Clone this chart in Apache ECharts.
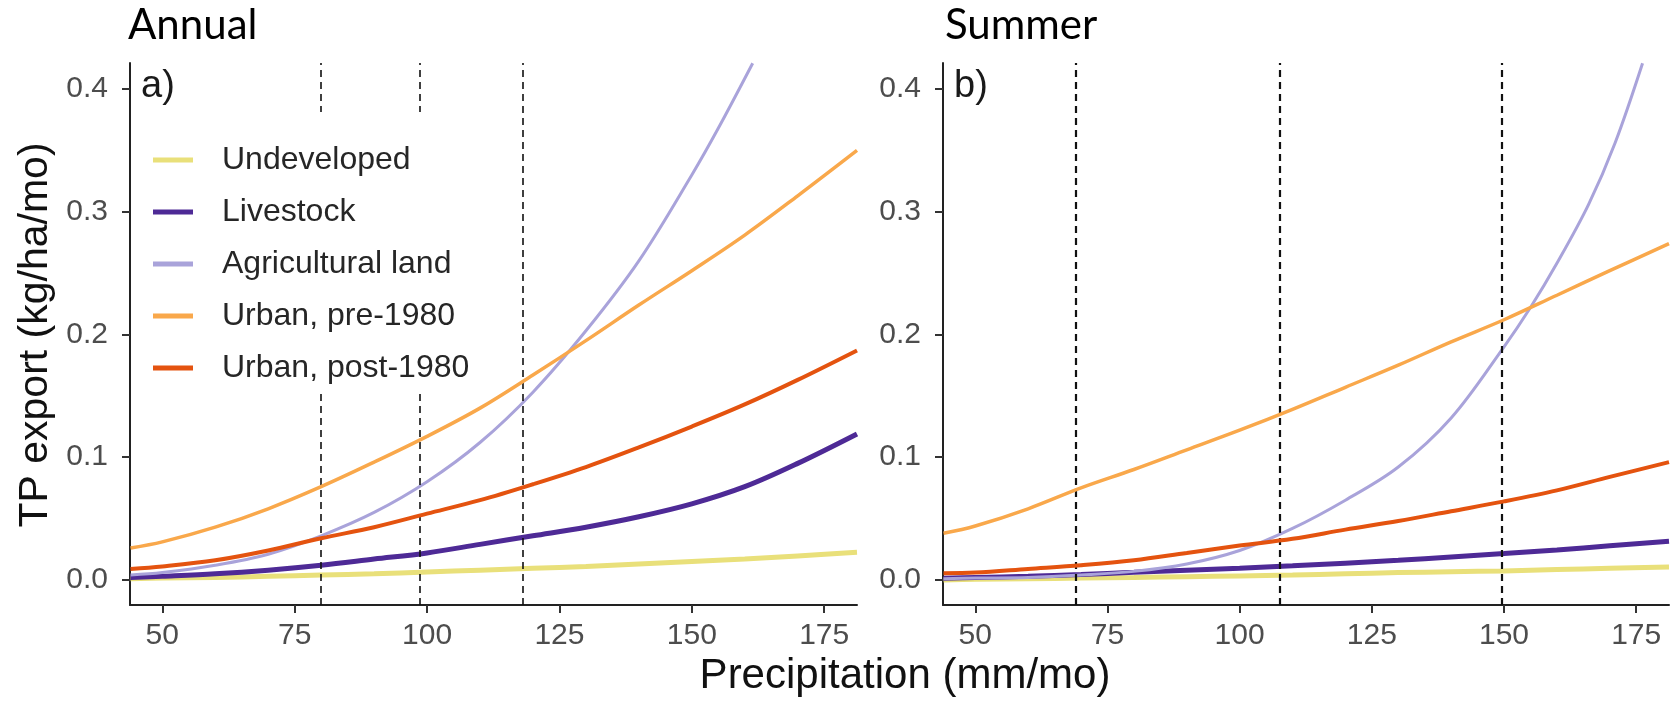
<!DOCTYPE html>
<html>
<head>
<meta charset="utf-8">
<script src="https://cdn.jsdelivr.net/npm/echarts@6/dist/echarts.min.js"></script>
<style>html,body{margin:0;padding:0;background:#fff}#c{width:1676px;height:703px}</style>
</head>
<body>
<div id="c"></div>
<script>
// ---- data ----
const seriesNames = ['Undeveloped', 'Livestock', 'Agricultural land', 'Urban, pre-1980', 'Urban, post-1980'];
const xTicks = [50, 75, 100, 125, 150, 175];
const yTicks = [0, 0.1, 0.2, 0.3, 0.4];

// Panel a (Annual)
const xA = [44, 50, 60, 70, 80, 90, 100, 110, 120, 130, 140, 150, 160, 170, 181.2];
const undevA = [0.001, 0.0015, 0.002, 0.003, 0.004, 0.005, 0.0065, 0.008, 0.0095, 0.011, 0.013, 0.015, 0.017, 0.0195, 0.0225];
const livestockA = [0.002, 0.003, 0.005, 0.008, 0.012, 0.017, 0.022, 0.029, 0.036, 0.043, 0.0515, 0.062, 0.076, 0.095, 0.119];
const preA = [0.026, 0.031, 0.043, 0.058, 0.076, 0.096, 0.117, 0.140, 0.167, 0.195, 0.224, 0.252, 0.281, 0.313, 0.350];
const postA = [0.009, 0.011, 0.016, 0.024, 0.034, 0.043, 0.054, 0.065, 0.078, 0.092, 0.108, 0.125, 0.143, 0.163, 0.187];
const xAgriA = [44, 50, 60, 70, 80, 90, 100, 110, 120, 130, 140, 150, 155, 161.5];
const agriA = [0.004, 0.006, 0.012, 0.021, 0.036, 0.055, 0.080, 0.112, 0.153, 0.203, 0.260, 0.330, 0.368, 0.421];
const cutsA = [80, 98.6, 118];

// Panel b (Summer)
const xB = [44, 50, 60, 70, 80, 90, 100, 110, 120, 130, 140, 150, 160, 170, 181.2];
const undevB = [0.0, 0.0005, 0.001, 0.0015, 0.002, 0.0027, 0.0033, 0.004, 0.005, 0.006, 0.0067, 0.0074, 0.0085, 0.0095, 0.0106];
const livestockB = [0.0014, 0.002, 0.003, 0.0045, 0.0062, 0.008, 0.0096, 0.0115, 0.0137, 0.016, 0.0187, 0.0215, 0.0245, 0.0278, 0.0315];
const preB = [0.038, 0.044, 0.058, 0.075, 0.090, 0.106, 0.122, 0.139, 0.157, 0.175, 0.194, 0.212, 0.232, 0.252, 0.274];
const postB = [0.0055, 0.006, 0.009, 0.012, 0.016, 0.022, 0.028, 0.0335, 0.041, 0.048, 0.056, 0.064, 0.073, 0.084, 0.096];
const xAgriB = [44, 50, 60, 70, 80, 90, 100, 110, 120, 130, 140, 150, 155, 160, 166, 171, 176.2];
const agriB = [0.001, 0.0015, 0.002, 0.004, 0.007, 0.013, 0.024, 0.042, 0.065, 0.092, 0.132, 0.190, 0.222, 0.258, 0.306, 0.356, 0.421];
const cutsB = [69, 107.5, 149.6];

// ---- styles ----
const colors = ['#E9E07A', '#4E2A96', '#A9A3DA', '#F9A84B', '#E4530F'];
const widths = [5, 5, 3, 3.5, 4];
const FONT = '"Liberation Sans", Arial, sans-serif';

const pair = (xs, ys) => xs.map((x, i) => [x, ys[i]]);

function panelSeries(gi, xs, xAgri, u, l, ag, pr, po, cuts) {
  const sets = [pair(xs, u), pair(xs, l), pair(xAgri, ag), pair(xs, pr), pair(xs, po)];
  return sets.map((d, k) => {
    const s = {
      name: seriesNames[k], type: 'line', xAxisIndex: gi, yAxisIndex: gi,
      data: d, showSymbol: false, symbol: 'none', smooth: 0.35, clip: true,
      lineStyle: { color: colors[k], width: widths[k] }, itemStyle: { color: colors[k] },
      z: 2 + k, silent: true
    };
    if (k === 4) {
      s.markLine = {
        silent: true, symbol: ['none', 'none'], label: { show: false },
        lineStyle: { color: '#111', type: [7, 5], width: gi === 0 ? 1.6 : 2.2 },
        data: cuts.map(c => ({ xAxis: c })), animation: false
      };
    }
    return s;
  });
}

function xAxisCfg(gi) {
  return {
    type: 'value', gridIndex: gi, min: 43.9, max: 181.2,
    splitLine: { show: false },
    axisLine: { show: true, onZero: false, lineStyle: { color: '#222', width: 2 } },
    axisTick: { show: true, length: 8, customValues: xTicks, lineStyle: { color: '#333', width: 2 } },
    axisLabel: { customValues: xTicks, margin: 16, fontSize: 30, fontFamily: FONT, color: '#4d4d4d' }
  };
}
function yAxisCfg(gi) {
  return {
    type: 'value', gridIndex: gi, min: -0.0204, max: 0.4212,
    splitLine: { show: false },
    axisLine: { show: true, onZero: false, lineStyle: { color: '#222', width: 2 } },
    axisTick: { show: true, length: 8, customValues: yTicks, lineStyle: { color: '#333', width: 2 } },
    axisLabel: { customValues: yTicks, margin: 22, fontSize: 30, fontFamily: FONT, color: '#4d4d4d',
      formatter: v => v.toFixed(1) }
  };
}

const chart = echarts.init(document.getElementById('c'), null, { renderer: 'canvas' });
chart.setOption({
  animation: false,
  backgroundColor: '#fff',
  grid: [
    { left: 130, top: 63, width: 727, height: 542 },
    { left: 943, top: 63, width: 726, height: 542 }
  ],
  xAxis: [xAxisCfg(0), xAxisCfg(1)],
  yAxis: [yAxisCfg(0), yAxisCfg(1)],
  legend: {
    data: seriesNames, orient: 'vertical', left: 133, top: 112,
    padding: [32, 14, 8, 20], itemGap: 20, itemWidth: 40, itemHeight: 5, icon: 'rect',
    backgroundColor: '#fff', selectedMode: false, z: 10,
    textStyle: { fontSize: 32, fontFamily: FONT, color: '#262626', lineHeight: 32, padding: [0, 0, 0, 24] }
  },
  graphic: [
    { type: 'text', left: 128, top: 4, style: { text: 'Annual', font: '42px Lato, "Open Sans", sans-serif', fill: '#000' } },
    { type: 'text', left: 945, top: 4, style: { text: 'Summer', font: '42px Lato, "Open Sans", sans-serif', fill: '#000' } },
    { type: 'text', x: 141, y: 87, z: 20, style: { text: 'a)', font: '38px "Liberation Sans", Arial, sans-serif', fill: '#1a1a1a', verticalAlign: 'middle' } },
    { type: 'text', x: 954, y: 87, z: 20, style: { text: 'b)', font: '38px "Liberation Sans", Arial, sans-serif', fill: '#1a1a1a', verticalAlign: 'middle' } },
    { type: 'text', x: 905, y: 676, style: { text: 'Precipitation (mm/mo)', font: '42px "Liberation Sans", Arial, sans-serif', fill: '#111', align: 'center', verticalAlign: 'middle' } },
    { type: 'text', x: 36, y: 335, rotation: Math.PI / 2, style: { text: 'TP export (kg/ha/mo)', font: '41px "Liberation Sans", Arial, sans-serif', fill: '#111', align: 'center', verticalAlign: 'middle' } }
  ],
  series: [
    ...panelSeries(0, xA, xAgriA, undevA, livestockA, agriA, preA, postA, cutsA),
    ...panelSeries(1, xB, xAgriB, undevB, livestockB, agriB, preB, postB, cutsB)
  ]
});
</script>
</body>
</html>
